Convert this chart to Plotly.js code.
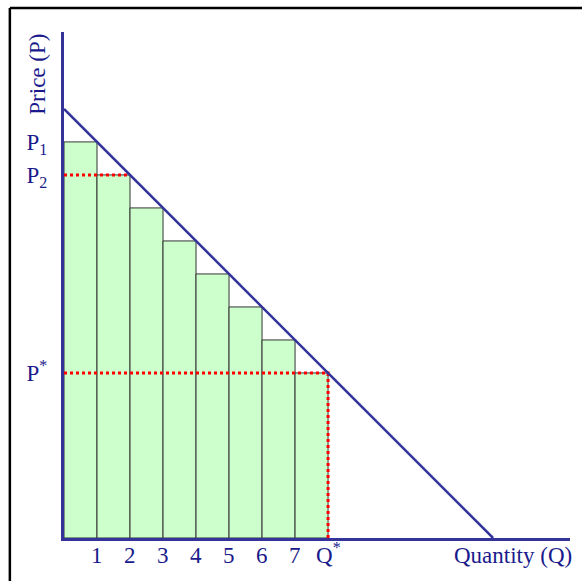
<!DOCTYPE html>
<html><head><meta charset="utf-8">
<script src="https://cdn.plot.ly/plotly-3.0.1.min.js"></script>
<style>html,body{margin:0;padding:0;background:#fff}#chart{width:582px;height:581px}</style>
</head><body><div id="chart"></div>
<script>
var barCenters = [0.5,1.5,2.5,3.5,4.5,5.5,6.5,7.5];
var barHeights = [12,11,10,9,8,7,6,5];
var demandQ = [0,13];
var demandP = [13,0];
var xTickVals = [1,2,3,4,5,6,7,8];
var xTickText = ['1','2','3','4','5','6','7','Q<sup>*</sup>'];
var yTickVals = [12,11,5];
var yTickText = ['P<sub>1</sub>','P<sub>2</sub>','P<sup>*</sup>'];
var p2LineQ = [0,2], p2LineP = [11,11];
var pStarQ = [0,8,8], pStarP = [5,5,0];

var navy = '#333399';
var txt = '#1a1a8c';
var font = {family:'Liberation Serif, Times New Roman, serif', size:23, color:txt};

var traces = [
 {type:'bar', x:barCenters, y:barHeights, width:1,
  marker:{color:'#ccffcc', line:{color:'#333333', width:1}}, hoverinfo:'none'},
 {type:'scatter', mode:'lines', x:p2LineQ, y:p2LineP, line:{color:'#ff0000', width:3, dash:'dot'}},
 {type:'scatter', mode:'lines', x:pStarQ, y:pStarP, line:{color:'#ff0000', width:3, dash:'dot'}},
 {type:'scatter', mode:'lines', x:demandQ, y:demandP, line:{color:navy, width:2.5}}
];

var annotations = xTickVals.map(function(v, i){
  return {text:xTickText[i], xref:'x', yref:'paper', x:v, y:0, xanchor:'center', yanchor:'top',
          height:34, valign:'bottom', yshift:6, showarrow:false, font:font};
});
annotations.push(
  {text:'Price (P)', xref:'paper', yref:'paper', x:-0.053, y:1.0, xanchor:'center', yanchor:'top',
   textangle:-90, showarrow:false, font:font},
  {text:'Quantity (Q)', xref:'paper', yref:'paper', x:1.008, y:-0.006, xanchor:'right', yanchor:'top',
   showarrow:false, font:font}
);

var layout = {
 width:582, height:581, showlegend:false,
 margin:{l:64, r:12, t:32, b:43},
 paper_bgcolor:'#fff', plot_bgcolor:'#fff',
 font:font,
 xaxis:{range:[0,15.33], showgrid:false, zeroline:false, showline:true, linecolor:navy, linewidth:3,
   showticklabels:false, ticks:'', fixedrange:true},
 yaxis:{range:[0,15.33], showgrid:false, zeroline:false, showline:true, linecolor:navy, linewidth:3,
   tickvals:yTickVals, ticktext:yTickText, ticks:'', tickfont:font, ticklabelstandoff:9, fixedrange:true},
 annotations:annotations,
 shapes:[
  {type:'line', xref:'paper', yref:'paper', x0:-0.107, x1:1.1, y0:1.0474, y1:1.0474, line:{color:'#000', width:2.5}},
  {type:'line', xref:'paper', yref:'paper', x0:-0.107, x1:-0.107, y0:1.0474, y1:-0.2, line:{color:'#000', width:2.5}}
 ]
};
Plotly.newPlot('chart', traces, layout, {displayModeBar:false, staticPlot:true});
</script></body></html>
